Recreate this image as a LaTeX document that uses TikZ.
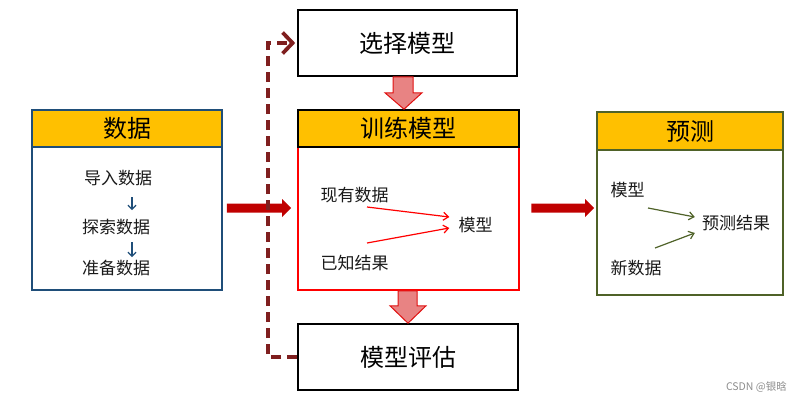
\documentclass[tikz,border=0pt]{standalone}
\usepackage{fontspec}
\setmainfont{Noto Sans CJK SC}
\usetikzlibrary{arrows.meta,calc}

\definecolor{gold}{HTML}{FFC000}
\definecolor{navy}{HTML}{1F4E79}
\definecolor{olive}{HTML}{4F6228}
\definecolor{darkred}{HTML}{C00000}
\definecolor{loopred}{HTML}{7F1F1F}
\definecolor{pinkfill}{HTML}{E88383}
\definecolor{pinkedge}{HTML}{E01010}
\definecolor{ink}{HTML}{1A1A1A}

\tikzset{
  box/.style={rectangle, inner sep=0pt, line width=1.6pt},
  hdr/.style={box, fill=gold, font=\fontsize{24}{28}\selectfont, text=black},
  plain/.style={box, draw=black, fill=white, font=\fontsize{24}{28}\selectfont},
  item/.style={inner sep=0pt, font=\fontsize{17}{20}\selectfont, text=ink},
  thin/.style={-{Straight Barb[length=5pt,width=8pt]}, line width=1.2pt},
  fatarrow/.style={fill=pinkfill, draw=pinkedge, line width=1pt, line join=miter},
  flow/.style={fill=darkred},
  loop/.style={draw=loopred, line width=3.8pt, dash pattern=on 10pt off 6pt,
               -{Straight Barb[length=10pt,width=21pt]}}
}

\begin{document}
\begin{tikzpicture}[x=1pt,y=-1pt]
\useasboundingbox (0,0) rectangle (801,402);

% data preparation block
\node[box, draw=navy, fill=white, minimum width=190pt, minimum height=143pt] (db) at (127,218.5) {};
\node[hdr, draw=navy, minimum width=190pt, minimum height=37pt] (dh) at (127,128.5) {数据};
\node[item] (d1) at (118,178) {导入数据};
\node[item] (d2) at (116,227) {探索数据};
\node[item] (d3) at (116,268) {准备数据};
\coordinate (a1) at (132,197);
\coordinate (b1) at (132,210);
\coordinate (a2) at (132,242);
\coordinate (b2) at (132,257);
\draw[navy, line width=1.2pt, -{Straight Barb[length=4pt,width=8pt]}] (a1) -- (b1);
\draw[navy, line width=1.2pt, -{Straight Barb[length=4pt,width=8pt]}] (a2) -- (b2);

% model selection
\node[plain, minimum width=219pt, minimum height=66pt] (sel) at (407.5,43) {选择模型};

% training block
\node[box, draw=red, fill=white, minimum width=221pt, minimum height=143pt] (tb) at (408.5,218.5) {};
\node[hdr, draw=black, minimum width=221pt, minimum height=37pt] (th) at (408.5,128.5) {训练模型};
\node[item] (t1) at (354.5,195) {现有数据};
\node[item] (t2) at (354.5,263) {已知结果};
\node[item] (t3) at (475.5,225) {模型};
\coordinate (t1s) at (367,207);
\coordinate (t2s) at (367,243);
\draw[red, thin] (t1s) -- ($(t3.west)+(-9,-8)$);
\draw[red, thin] (t2s) -- ($(t3.west)+(-9,3)$);

% model evaluation
\node[plain, minimum width=220pt, minimum height=66pt] (ev) at (408,357) {模型评估};

% prediction block
\node[box, draw=olive, fill=white, minimum width=186pt, minimum height=145pt] (pb) at (690,222.5) {};
\node[hdr, draw=olive, minimum width=186pt, minimum height=38pt] (ph) at (690,131) {预测};
\node[item] (p1) at (627.5,190) {模型};
\node[item] (p2) at (636,268) {新数据};
\node[item] (p3) at (736,223) {预测结果};
\coordinate (p1s) at (648,208);
\coordinate (p2s) at (655,248);
\draw[olive, thin] (p1s) -- ($(p3.west)+(-7,-6)$);
\draw[olive, thin] (p2s) -- ($(p3.west)+(-7,10)$);

% block arrows between the stages
\draw[fatarrow] ($(sel.south)+(-14.5,0)$) -- ($(sel.south)+(5.5,0)$) -- ($(sel.south)+(5.5,16)$)
  -- ($(sel.south)+(14.5,16)$) -- ($(th.north)+(-4.5,0)$) -- ($(sel.south)+(-22.5,16)$)
  -- ($(sel.south)+(-14.5,16)$) -- cycle;
\draw[fatarrow] ($(tb.south)+(-10.5,0)$) -- ($(tb.south)+(8.5,0)$) -- ($(tb.south)+(8.5,15)$)
  -- ($(tb.south)+(17.5,15)$) -- ($(ev.north)+(0,0)$) -- ($(tb.south)+(-18.5,15)$)
  -- ($(tb.south)+(-10.5,15)$) -- cycle;

% flow arrows from stage to stage
\coordinate (f1) at ($(db.east)+(4,-10.5)$);
\coordinate (f2) at ($(tb.west)+(-6,-10.5)$);
\fill[flow] ($(f1)+(0,-4.5)$) -- ($(f2)+(-9,-4.5)$) -- ($(f2)+(-9,-9)$) -- (f2)
  -- ($(f2)+(-9,9)$) -- ($(f2)+(-9,4.5)$) -- ($(f1)+(0,4.5)$) -- cycle;
\coordinate (g1) at ($(tb.east)+(11.5,-10.5)$);
\coordinate (g2) at ($(pb.west)+(-2,-14.5)$);
\fill[flow] ($(g1)+(0,-4.5)$) -- ($(g2)+(-9,-4.5)$) -- ($(g2)+(-9,-9)$) -- (g2)
  -- ($(g2)+(-9,9)$) -- ($(g2)+(-9,4.5)$) -- ($(g1)+(0,4.5)$) -- cycle;

% feedback loop from evaluation back to model selection
\coordinate (lb) at ($(ev.west)+(-29,0)$);
\coordinate (lt) at ($(sel.west)+(-29,0)$);
\draw[loop] (ev.west) -- (lb) -- (lt) -- ($(sel.west)+(-2,0)$);

% credit line
\node[inner sep=0pt, font=\fontsize{10.5}{12}\selectfont, text=black!45, anchor=east] (credit) at (787,387) {CSDN @银晗};
\end{tikzpicture}
\end{document}
